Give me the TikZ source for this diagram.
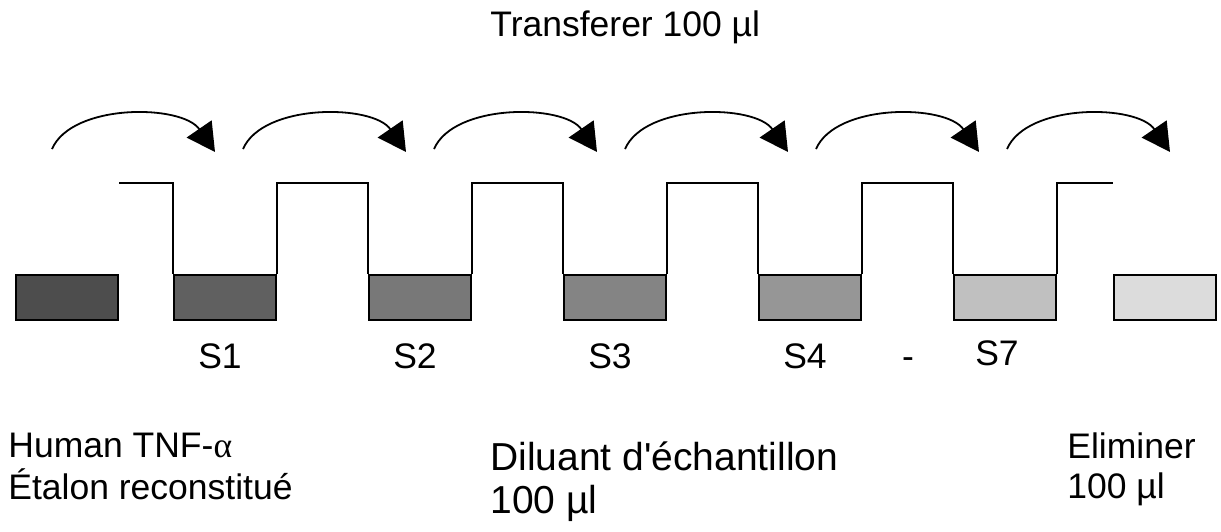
\documentclass[tikz,border=0pt]{standalone}
\usepackage{fontspec}
\setmainfont{Liberation Sans}[Ligatures=TeXOff]
\newfontfamily\greekfont{Liberation Serif}
\usetikzlibrary{arrows.meta, positioning, calc}

\definecolor{tubeA}{HTML}{4D4D4D}
\definecolor{tubeB}{HTML}{606060}
\definecolor{tubeC}{HTML}{787878}
\definecolor{tubeD}{HTML}{848484}
\definecolor{tubeE}{HTML}{969696}
\definecolor{tubeF}{HTML}{C0C0C0}
\definecolor{tubeG}{HTML}{DCDCDC}

\tikzset{
  tube/.style={draw, line width=1pt, minimum width=51pt, minimum height=22.5pt, inner sep=0pt},
  wave/.style={line width=1pt},
  transfer/.style={line width=0.9pt, -{Triangle[length=14pt,width=15pt]}},
  lbl/.style={inner sep=0pt, font=\fontsize{17.75}{21}\selectfont},
  biglbl/.style={inner sep=0pt, font=\fontsize{19.5}{23}\selectfont}
}

\begin{document}
\begin{tikzpicture}[x=0.5pt, y=-0.5pt]
\useasboundingbox (0,0) rectangle (1221,531);

%//tubes
\node [tube, fill=tubeA] (std) at (67,297.5) {};
\foreach \n/\x/\c in {s1/225/tubeB, s2/420/tubeC, s3/615/tubeD, s4/810/tubeE, s7/1004.5/tubeF}
\node [tube, fill=\c] (\n) at (\x,297.5) {};
\node [tube, fill=tubeG] (waste) at (1164.5,297.5) {};

%//line over the tubes
\coordinate (top) at (0,183);
\draw [wave] (std.north east |- top) -- (s1.north west |- top) -- (s1.north west);
\foreach \a/\b in {s1/s2, s2/s3, s3/s4, s4/s7}
\draw [wave] (\a.north east) -- (\a.north east |- top) -- (\b.north west |- top) -- (\b.north west);
\draw [wave] (s7.north east) -- (s7.north east |- top) -- (waste.north west |- top);

%//transfer arrows
\foreach \i in {0,1,2,3,4,5} {
\coordinate (from\i) at (52+191*\i,149);
\coordinate (to\i) at (215+191*\i,152);
\draw [transfer] (from\i) .. controls ($(from\i)+(20,-46)$) and ($(to\i)+(-33,-48)$) .. (to\i);
}

%//labels
\node [lbl, anchor=base west] (title) at (490,36) {Transferer 100 µl};

\foreach \n/\x/\y/\t in {l1/220/368/S1, l2/415/368/S2, l3/610/368/S3, l4/805/368/S4, l7/997/365/S7}
\node [lbl, anchor=base] (\n) at (\x,\y) {\t};
\node [lbl, anchor=base] (dash) at (908,368) {-};

\node [lbl, anchor=base west] (std1) at (8,457) {Human TNF-{\greekfont α}};
\node [lbl, anchor=base west] (std2) at (8,499) {Étalon reconstitué};

\node [biglbl, anchor=base west] (dil1) at (490,470) {Diluant d'échantillon};
\node [biglbl, anchor=base west] (dil2) at (490,513) {100 µl};

\node [lbl, anchor=base west] (del1) at (1067,458) {Eliminer};
\node [lbl, anchor=base west] (del2) at (1067,498) {100 µl};
\end{tikzpicture}
\end{document}
